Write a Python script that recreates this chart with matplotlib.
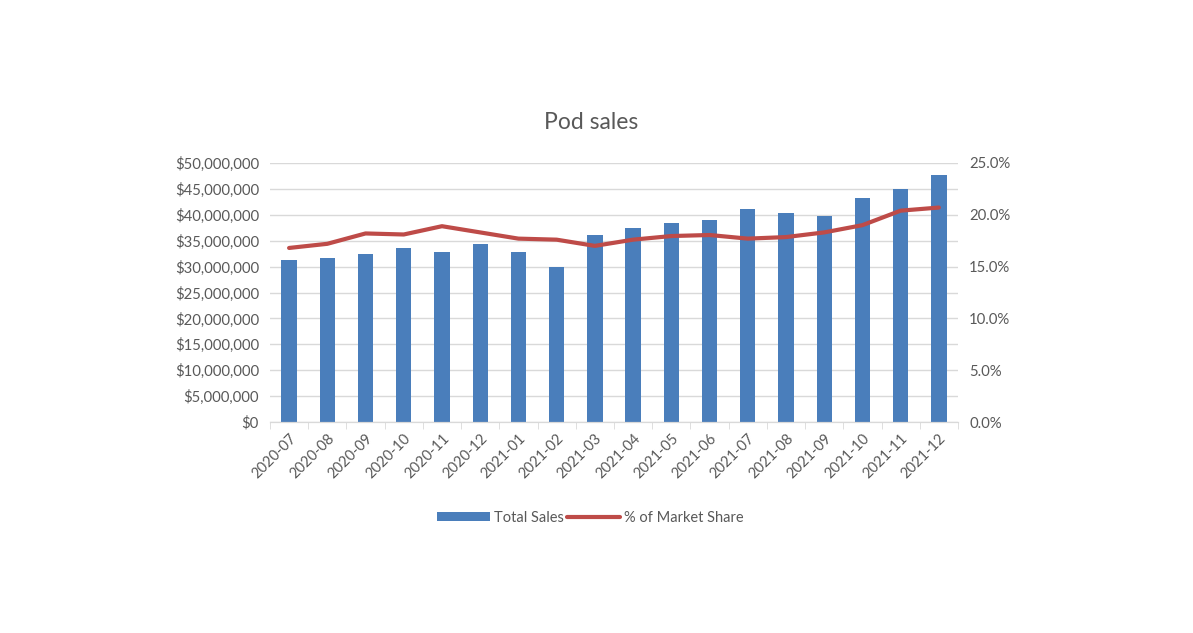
import numpy as np
import matplotlib.pyplot as plt
from matplotlib.ticker import FuncFormatter, FixedLocator

months = ['2020-07', '2020-08', '2020-09', '2020-10', '2020-11', '2020-12',
          '2021-01', '2021-02', '2021-03', '2021-04', '2021-05', '2021-06',
          '2021-07', '2021-08', '2021-09', '2021-10', '2021-11', '2021-12']
total_sales = [31.3, 31.7, 32.4, 33.5, 32.9, 34.3, 32.9, 29.9, 36.1,
               37.4, 38.5, 39.0, 41.2, 40.4, 39.8, 43.3, 45.0, 47.6]  # millions $
market_share = [16.8, 17.2, 18.2, 18.1, 18.9, 18.3, 17.7, 17.6, 17.0,
                17.6, 17.95, 18.05, 17.7, 17.85, 18.3, 19.0, 20.4, 20.7]  # %

plt.rcParams['font.family'] = ['Lato', 'DejaVu Sans']
txt = '#595959'
grid = '#d9d9d9'

fig = plt.figure(figsize=(11.93, 6.33), dpi=100)
ax1 = fig.add_axes([0.2263, 0.3333, 0.5767, 0.4092])
ax2 = ax1.twinx()

x = np.arange(len(months))
sales = np.array(total_sales) * 1e6
ax1.bar(x, sales, width=0.4, color='#4a7ebb', label='Total Sales', zorder=2)
ax2.plot(x, market_share, color='#be4b48', lw=3, solid_joinstyle='round',
         solid_capstyle='round', label='% of Market Share', zorder=3)

ax1.set_xlim(-0.5, len(months) - 0.5)
ax1.set_ylim(0, 50e6)
ax1.set_yticks(np.arange(0, 50e6 + 1, 5e6))
ax1.yaxis.set_major_formatter(FuncFormatter(lambda v, p: '${:,.0f}'.format(v)))
ax2.set_ylim(0, 25)
ax2.set_yticks(np.arange(0, 26, 5))
ax2.yaxis.set_major_formatter(FuncFormatter(lambda v, p: '{:.1f}%'.format(v)))

ax1.grid(axis='y', color=grid, lw=1, zorder=0)
ax1.set_axisbelow(True)

ax1.set_xticks(x)
ax1.set_xticklabels(months, rotation=45, ha='right', va='top',
                    rotation_mode='anchor', color=txt, fontsize=10.5)
ax1.tick_params(axis='x', length=0, pad=7)
ax1.xaxis.set_minor_locator(FixedLocator(np.arange(-0.5, len(months), 1)))
ax1.tick_params(axis='x', which='minor', length=5, color=grid)

for a in (ax1, ax2):
    for s in ('top', 'left', 'right'):
        a.spines[s].set_visible(False)
    a.spines['bottom'].set_color(grid)
    a.tick_params(axis='y', length=0, colors=txt, labelsize=10.7)
ax1.tick_params(axis='y', pad=8)
ax2.tick_params(axis='y', pad=8)

fig.text(0.4955, 0.807, 'Pod sales', ha='center', va='center', fontsize=16.5, color=txt)

h1, l1 = ax1.get_legend_handles_labels()
h2, l2 = ax2.get_legend_handles_labels()
fig.legend(h1 + h2, l1 + l2, loc='center', bbox_to_anchor=(0.495, 0.182), ncol=2,
           frameon=False, fontsize=10.5, labelcolor=txt, handlelength=3.6,
           handletextpad=0.3, columnspacing=0.2, handleheight=0.6)

fig.savefig('out.png', dpi=100)
